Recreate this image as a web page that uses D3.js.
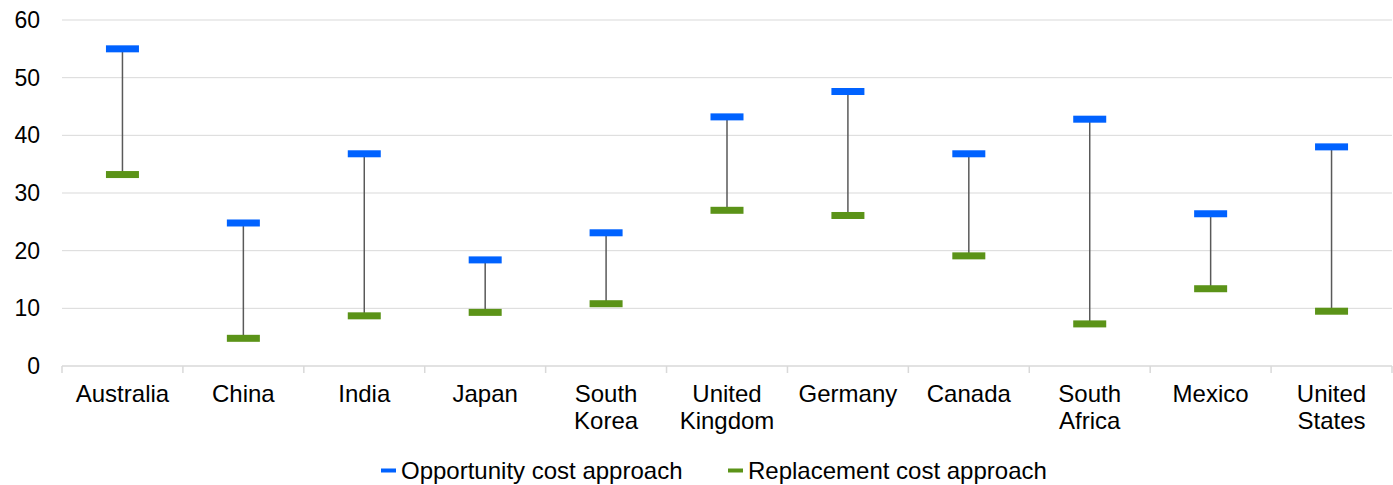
<!DOCTYPE html>
<html>
<head>
<meta charset="utf-8">
<script src="https://cdn.jsdelivr.net/npm/d3@7"></script>
<style>
  html, body { margin: 0; padding: 0; background: #fff; }
  svg { display: block; font-family: "Liberation Sans", Arial, sans-serif; }
</style>
</head>
<body>
<svg id="chart" width="1393" height="485"></svg>
<script>
const countries = ["Australia", "China", "India", "Japan", "South Korea", "United Kingdom",
                   "Germany", "Canada", "South Africa", "Mexico", "United States"];
const opportunityCost = [55, 24.8, 36.8, 18.4, 23.1, 43.2, 47.6, 36.8, 42.8, 26.4, 38.0];
const replacementCost = [33.2, 4.8, 8.7, 9.3, 10.8, 27.0, 26.1, 19.1, 7.3, 13.4, 9.5];
const yTicks = [0, 10, 20, 30, 40, 50, 60];
const seriesNames = ["Opportunity cost approach", "Replacement cost approach"];
const seriesColors = ["#0062ff", "#5b9318"];

const svg = d3.select("#chart");
const margin = { left: 62, right: 1, top: 20, bottom: 119 };
const width = 1393, height = 485;

const x = d3.scaleBand().domain(countries).range([margin.left, width - margin.right]);
const y = d3.scaleLinear().domain([0, 60]).range([height - margin.bottom, margin.top]);

// gridlines
svg.append("g").selectAll("line").data(yTicks.filter(d => d > 0)).join("line")
  .attr("x1", margin.left).attr("x2", width - margin.right)
  .attr("y1", d => y(d)).attr("y2", d => y(d))
  .attr("stroke", "#d9d9d9").attr("stroke-width", 1);

// y axis labels
const yAxis = d3.axisLeft(y).tickValues(yTicks).tickSize(0).tickPadding(22);
const gy = svg.append("g").attr("transform", `translate(${margin.left},0)`).call(yAxis);
gy.select(".domain").remove();
gy.selectAll("text").attr("font-size", 23).attr("fill", "#000")
  .attr("font-family", "Liberation Sans, Arial, sans-serif");

// x axis baseline and category dividers
const baseY = y(0);
svg.append("line").attr("x1", margin.left).attr("x2", width - margin.right)
  .attr("y1", baseY).attr("y2", baseY).attr("stroke", "#d9d9d9").attr("stroke-width", 1.5);
const dividers = countries.map(c => x(c)).concat([x(countries[countries.length - 1]) + x.bandwidth()]);
svg.append("g").selectAll("line").data(dividers).join("line")
  .attr("x1", d => d).attr("x2", d => d)
  .attr("y1", baseY).attr("y2", baseY + 7)
  .attr("stroke", "#d9d9d9").attr("stroke-width", 1.5);

// category labels (wrapped on spaces)
const lab = svg.append("g").selectAll("text").data(countries).join("text")
  .attr("text-anchor", "middle").attr("font-size", 24).attr("fill", "#000")
  .attr("x", d => x(d) + x.bandwidth() / 2)
  .attr("y", baseY + 36);
lab.each(function(d) {
  const words = d.split(" ");
  const t = d3.select(this);
  words.forEach((w, i) => {
    t.append("tspan").attr("x", x(d) + x.bandwidth() / 2)
      .attr("dy", i === 0 ? 0 : 27).text(w);
  });
});

// whiskers between the two estimates
const markW = 33, markH = 7;
const rows = countries.map((c, i) => ({ c, hi: opportunityCost[i], lo: replacementCost[i] }));
svg.append("g").selectAll("line").data(rows).join("line")
  .attr("x1", d => x(d.c) + x.bandwidth() / 2).attr("x2", d => x(d.c) + x.bandwidth() / 2)
  .attr("y1", d => y(d.hi)).attr("y2", d => y(d.lo))
  .attr("stroke", "#595959").attr("stroke-width", 1.5);

// end markers
[opportunityCost, replacementCost].forEach((vals, si) => {
  svg.append("g").selectAll("rect").data(vals).join("rect")
    .attr("x", (d, i) => x(countries[i]) + x.bandwidth() / 2 - markW / 2)
    .attr("y", d => y(d) - markH / 2)
    .attr("width", markW).attr("height", markH)
    .attr("fill", seriesColors[si]);
});

// legend
const legendX = [381, 728];
const legendY = 470.5;
seriesNames.forEach((name, i) => {
  const g = svg.append("g");
  g.append("rect").attr("x", legendX[i]).attr("y", legendY - 2)
    .attr("width", 15).attr("height", 4).attr("fill", seriesColors[i]);
  g.append("text").attr("x", legendX[i] + 20).attr("y", legendY + 8)
    .attr("font-size", 24).attr("fill", "#000").text(name);
});
</script>
</body>
</html>
